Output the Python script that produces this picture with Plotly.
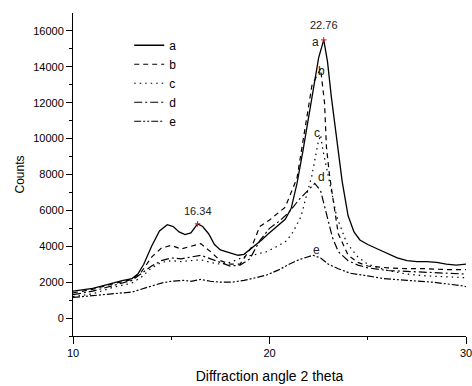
import plotly.graph_objects as go

# ---- data ----
x_a = [10, 10.5, 11, 11.5, 12, 12.5, 13, 13.3, 13.6, 14, 14.4, 14.8, 15.1, 15.4, 15.7, 16.0, 16.34,
       16.6, 16.9, 17.2, 17.5, 17.8, 18.1, 18.4, 18.7, 19.0, 19.3, 19.6, 19.9, 20.2, 20.5, 20.8,
       21.1, 21.4, 21.7, 22.0, 22.3, 22.5, 22.76, 22.95, 23.15, 23.4, 23.7, 24.0, 24.3, 24.6, 25.0,
       25.5, 26.0, 26.5, 27.0, 27.5, 28.0, 28.5, 29.0, 29.5, 30]
y_a = [1500, 1580, 1660, 1800, 1960, 2080, 2200, 2450, 3000, 4000, 4850, 5200, 5100, 4800, 4650, 4750, 5250,
       5100, 4700, 4100, 3800, 3700, 3600, 3500, 3550, 3800, 4050, 4350, 4650, 4950, 5200, 5500,
       6100, 7500, 9300, 11300, 13200, 14500, 15500, 14300, 12300, 10300, 7600, 5700, 4800, 4350, 4100,
       3850, 3600, 3350, 3200, 3150, 3150, 3100, 3000, 2950, 3000]

x_b = [10, 11, 12, 13, 13.5, 14, 14.5, 15, 15.5, 16, 16.5, 17, 17.5, 18, 18.5, 19.1, 19.5, 20.0,
       20.8, 21.4, 21.8, 22.16, 22.6, 22.8, 22.9, 23.05, 23.25, 23.5, 24.0, 24.5, 25, 26, 27, 28, 29, 30]
y_b = [1400, 1600, 1900, 2150, 2600, 3400, 3900, 4050, 3850, 4000, 4150, 3700, 3200, 3000, 3000, 3980, 5090, 5460,
       6180, 7800, 10460, 12960, 13900, 12000, 9500, 8000, 6500, 4700, 3500, 3100, 2900, 2800, 2750, 2750, 2700, 2700]

x_c = [10, 11, 12, 13, 13.5, 14, 14.5, 15, 15.5, 16, 16.5, 17, 17.5, 18, 18.67, 19.3, 19.86, 20.4,
       20.87, 21.2, 21.6, 21.9, 22.15, 22.47, 22.6, 22.72, 23.0, 23.42, 23.93, 24.5, 25, 26, 27, 28, 29, 30]
y_c = [1200, 1350, 1700, 1950, 2300, 2800, 3100, 3200, 3150, 3200, 3250, 3100, 3000, 3100, 3400, 3550, 3700, 4000,
       4300, 4800, 5650, 6900, 7900, 9750, 10200, 9350, 7800, 5650, 4180, 3400, 3000, 2650, 2450, 2350, 2300, 2250]

x_d = [10, 11, 12, 13, 13.5, 14, 14.5, 15, 15.5, 16, 16.5, 17, 17.5, 18, 18.5, 19, 19.5, 20, 20.5,
       21, 21.5, 22, 22.3, 22.6, 22.9, 23.2, 23.5, 24, 24.5, 25, 26, 27, 28, 29, 30]
y_d = [1300, 1500, 1800, 2100, 2500, 2900, 3200, 3350, 3300, 3400, 3500, 3300, 3100, 2900, 2950, 3300, 4300, 5000, 5400,
       5900, 6600, 7200, 7500, 7100, 5800, 4500, 3700, 3200, 2950, 2800, 2650, 2600, 2550, 2500, 2450]

x_e = [10, 11, 12, 13, 13.9, 14.5, 15, 15.6, 16, 16.5, 17, 17.5, 18.1, 18.7, 19.3, 19.86, 20.5, 21.0,
       21.5, 22.2, 22.6, 23.0, 23.5, 24.1, 25, 25.8, 27, 28.3, 29.8, 30]
y_e = [1150, 1250, 1350, 1450, 1750, 1950, 2050, 2100, 2050, 2150, 2050, 2000, 2000, 2100, 2250, 2400, 2700, 3000,
       3250, 3500, 3350, 3000, 2750, 2500, 2350, 2200, 2100, 2000, 1800, 1750]

peak_x = [16.34, 22.76]
peak_y = [5250, 15500]

y_ticks = [0, 2000, 4000, 6000, 8000, 10000, 12000, 14000, 16000]
y_minor = [-1000, 1000, 3000, 5000, 7000, 9000, 11000, 13000, 15000]
x_ticks = [10, 20, 30]
x_minor = [15, 25]

names = ["a", "b", "c", "d", "e"]
dashes = ["solid", "5px,4px", "1.5px,4px", "8px,3px,2px,3px", "7px,2px,2px,2px,2px,2px"]
series = [(x_a, y_a), (x_b, y_b), (x_c, y_c), (x_d, y_d), (x_e, y_e)]

fig = go.Figure()
for (xs, ys), n, d in zip(series, names, dashes):
    fig.add_trace(go.Scatter(
        x=xs, y=ys, mode="lines", name=n,
        line=dict(color="black", width=1.3 if n == "a" else 1.2, dash=d),
    ))

fig.add_trace(go.Scatter(
    x=peak_x, y=peak_y, mode="markers", showlegend=False,
    marker=dict(color="red", size=4, symbol="cross-thin", line=dict(color="red", width=1)),
))

font_family = "Liberation Sans, Arial, sans-serif"

annots = [
    dict(x=22.77, y=16316, text="22.76", size=11),
    dict(x=16.38, y=5986, text="16.34", size=11),
    dict(x=22.32, y=15370, text="a", size=12),
    dict(x=22.65, y=13757, text="b", size=12),
    dict(x=22.42, y=10308, text="c", size=12),
    dict(x=22.65, y=7860, text="d", size=12),
    dict(x=22.37, y=3800, text="e", size=12),
]
for a in annots:
    fig.add_annotation(x=a["x"], y=a["y"], xref="x", yref="y", text=a["text"], showarrow=False,
                       font=dict(size=a["size"], color="#222", family=font_family))

fig.update_layout(
    width=472, height=386,
    margin=dict(l=73, r=6, t=13, b=50, autoexpand=False),
    paper_bgcolor="white", plot_bgcolor="white",
    font=dict(family=font_family, color="black", size=11),
    legend=dict(x=0.143, y=0.945, xanchor="left", yanchor="top",
                bgcolor="rgba(0,0,0,0)", font=dict(size=12), tracegroupgap=0),
)
fig.update_xaxes(
    range=[10, 30], showgrid=False, zeroline=False, automargin=False,
    showline=True, linecolor="black", linewidth=1,
    tickmode="array", tickvals=x_ticks, ticktext=[str(v) for v in x_ticks],
    ticks="outside", ticklen=7, tickcolor="black", tickwidth=1,
    ticklabeloverflow="allow",
    minor=dict(tickmode="array", tickvals=x_minor, ticks="outside", ticklen=3, tickcolor="black"),
    title=dict(text="Diffraction angle 2 theta", font=dict(size=14), standoff=12),
    tickfont=dict(size=11),
)
fig.update_yaxes(
    range=[-1000, 17000], showgrid=False, zeroline=False, automargin=False,
    showline=True, linecolor="black", linewidth=1,
    tickmode="array", tickvals=y_ticks, ticktext=[str(v) for v in y_ticks],
    ticks="outside", ticklen=6, tickcolor="black", tickwidth=1,
    minor=dict(tickmode="array", tickvals=y_minor, ticks="outside", ticklen=3, tickcolor="black"),
    title=dict(text="Counts", font=dict(size=12), standoff=6),
    tickfont=dict(size=11),
)

fig.write_html("out.html")
